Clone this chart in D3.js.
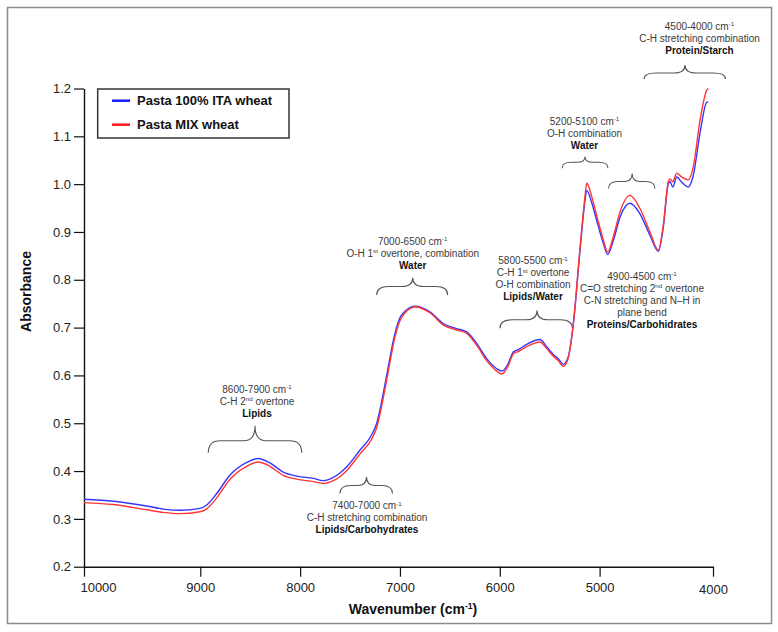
<!DOCTYPE html>
<html>
<head>
<meta charset="utf-8">
<script src="https://cdn.jsdelivr.net/npm/d3@7"></script>
<style>
  body { margin: 0; background: #fff; }
  svg { display: block; font-family: "Liberation Sans", Arial, sans-serif; }
</style>
</head>
<body>
<script>
// ---------------- DATA ----------------
const wavenumbers = [10000, 9748, 9461, 9318, 9175, 9003, 8936, 8836, 8702, 8535, 8419, 8302, 8169, 8034, 7868, 7768, 7668, 7601, 7533, 7400,
  7283, 7233, 7200, 7133, 7050, 6999, 6949, 6849, 6699, 6563, 6431, 6331, 6231, 6131, 6031, 5981, 5915, 5865, 5814, 5730,
  5597, 5530, 5464, 5414, 5364, 5314, 5263, 5196, 5146, 5129, 5080, 5029, 4967, 4929, 4879, 4820, 4732, 4644, 4556, 4482,
  4438, 4394, 4379, 4355, 4320, 4276, 4218, 4174, 4115, 4056, 4042];
const pastaITA = [0.341, 0.337, 0.327, 0.3205, 0.318, 0.322, 0.329, 0.353, 0.3916, 0.418, 0.4264, 0.417, 0.398, 0.3895, 0.3846, 0.380, 0.387, 0.396, 0.409, 0.444,
  0.476, 0.500, 0.528, 0.600, 0.688, 0.721, 0.734, 0.745, 0.733, 0.708, 0.698, 0.691, 0.667, 0.635, 0.614, 0.609, 0.625, 0.649, 0.654, 0.665,
  0.675, 0.660, 0.644, 0.635, 0.623, 0.639, 0.708, 0.862, 0.966, 0.987, 0.962, 0.924, 0.876, 0.853, 0.882, 0.931, 0.960, 0.938, 0.893, 0.8595,
  0.910, 1.001, 1.005, 0.994, 1.015, 1.004, 0.994, 1.018, 1.106, 1.171, 1.172];
const pastaMIX = [0.334, 0.330, 0.319, 0.3136, 0.311, 0.315, 0.321, 0.344, 0.383, 0.410, 0.419, 0.410, 0.391, 0.383, 0.378, 0.374, 0.380, 0.388, 0.401, 0.436,
  0.467, 0.491, 0.519, 0.590, 0.680, 0.715, 0.731, 0.743, 0.731, 0.705, 0.695, 0.688, 0.663, 0.631, 0.609, 0.603, 0.620, 0.645, 0.650, 0.660,
  0.670, 0.656, 0.640, 0.631, 0.619, 0.636, 0.708, 0.866, 0.975, 1.002, 0.975, 0.934, 0.883, 0.858, 0.890, 0.942, 0.9765, 0.949, 0.900, 0.862,
  0.915, 1.005, 1.011, 1.005, 1.023, 1.015, 1.009, 1.036, 1.133, 1.196, 1.200];
const seriesNames = ["Pasta 100% ITA wheat", "Pasta MIX wheat"];
const xTickValues = [10000, 9000, 8000, 7000, 6000, 5000, 4000];
const yTickValues = [0.2, 0.3, 0.4, 0.5, 0.6, 0.7, 0.8, 0.9, 1.0, 1.1, 1.2];
const xTitle = "Wavenumber (cm^{-1})";
const yTitle = "Absorbance";

// annotation texts ("**" = bold line, ^{..} = superscript)
const annotTexts = [
  ["8600-7900  cm^{-1}", "C-H 2^{nd}  overtone", "**Lipids"],
  ["7400-7000  cm^{-1}", "C-H stretching combination", "**Lipids/Carbohydrates"],
  ["7000-6500  cm^{-1}", "O-H 1^{st}  overtone,  combination", "**Water"],
  ["5800-5500  cm^{-1}", "C-H 1^{st}  overtone", "O-H combination", "**Lipids/Water"],
  ["5200-5100  cm^{-1}", "O-H combination", "**Water"],
  ["4900-4500  cm^{-1}", "C=O stretching 2^{nd} overtone", "C-N stretching and N\u2013H in", "plane bend", "**Proteins/Carbohidrates"],
  ["4500-4000  cm^{-1}", "C-H stretching combination", "**Protein/Starch"]
];

// ---------------- LAYOUT ----------------
const W = 778, H = 632;
const x = d3.scaleLinear().domain([10000, 9000, 5000, 4000]).range([84, 200.3, 599.6, 713]);
const y = d3.scaleLinear().domain([0.2, 1.2]).range([566.7, 88.5]);

// annotation placement (text centre in data units, brace span in data units, brace heights in px)
const annotLayout = [
  { tx: 8432, ty: 0.5716, brace: { w1: 8920, w2: 7984, wt: 8452, yEnd: 0.4384, mid: 12, tip: 27 } },
  { tx: 7330, ty: 0.327,  brace: { w1: 7601, w2: 7075, wt: 7335, yEnd: 0.3531, mid: 8, tip: 16.5 } },
  { tx: 6872, ty: 0.8796, brace: { w1: 7233, w2: 6522, wt: 6872, yEnd: 0.7682, mid: 8.5, tip: 17.3 } },
  { tx: 5667, ty: 0.8393, brace: { w1: 5998, w2: 5273, wt: 5627, yEnd: 0.6985, mid: 8.5, tip: 17.8 } },
  { tx: 5151, ty: 1.1306, brace: { w1: 5376, w2: 4926, wt: 5146, yEnd: 1.0331, mid: 6, tip: 11.6 } },
  { tx: 4626, ty: 0.8079, brace: null },
  { tx: 4119, ty: 1.3299, brace: { w1: 4608, w2: 3890, wt: 4247, yEnd: 1.2199, mid: 6, tip: 14 } }
];
const extraBraces = [ { w1: 4921, w2: 4512, wt: 4713, yEnd: 0.9909, mid: 7, tip: 15 } ];

const svg = d3.select("body").append("svg").attr("width", W).attr("height", H);

// outer frame
svg.append("rect").attr("x", 7.5).attr("y", 7.5).attr("width", 764).attr("height", 616)
  .attr("fill", "none").attr("stroke", "#8c8c8c").attr("stroke-width", 1.5);

// axes
const gx = svg.append("g").attr("transform", `translate(0,${y(0.2)})`)
  .call(d3.axisBottom(x).tickValues(xTickValues).tickFormat(d3.format("d"))
    .tickSize(10).tickSizeOuter(0).tickPadding(6));
const gy = svg.append("g").attr("transform", `translate(${x(10000)},0)`)
  .call(d3.axisLeft(y).tickValues(yTickValues).tickFormat(d3.format(".1f"))
    .tickSize(10).tickSizeOuter(0).tickPadding(3));
[gx, gy].forEach(g => {
  g.select(".domain").attr("stroke", "#111").attr("stroke-width", 1.4);
  g.selectAll(".tick line").attr("stroke", "#111").attr("stroke-width", 1.2);
  g.selectAll(".tick text").attr("font-size", 13).attr("fill", "#222")
    .attr("font-family", "'Liberation Sans', Arial, sans-serif");
});
gx.selectAll(".tick text").filter(d => d === 10000).attr("dx", 14);
gx.selectAll(".tick text").filter(d => d === 4000).attr("dy", "0.85em");

// rich text helper
function richText(parent, str, cx, cy, size, color) {
  let bold = false;
  if (str.startsWith("**")) { bold = true; str = str.slice(2); }
  const t = parent.append("text").attr("x", cx).attr("y", cy).attr("dy", "0.35em")
    .attr("text-anchor", "middle").attr("font-size", size)
    .attr("font-weight", bold ? "bold" : "normal").attr("fill", color || (bold ? "#111" : "#3a3a3a"));
  const parts = str.split(/(\^\{[^}]*\})/).filter(p => p.length);
  let shifted = false;
  parts.forEach(p => {
    if (p.startsWith("^{")) {
      t.append("tspan").attr("dy", -size * 0.38).attr("font-size", size * 0.62).text(p.slice(2, -1));
      shifted = true;
    } else {
      const ts = t.append("tspan").text(p);
      if (shifted) { ts.attr("dy", size * 0.38); shifted = false; }
    }
  });
  return t;
}

// braces
function bracePath(b) {
  const x1 = x(b.w1), x2 = x(b.w2), xt = x(b.wt);
  const ye = y(b.yEnd), ym = ye - b.mid, ytp = ye - b.tip;
  const r = Math.min(12, (xt - x1) / 2.5), rt = Math.min(11, (xt - x1) / 3);
  return `M${x1},${ye} Q${x1},${ym} ${x1 + r},${ym} L${xt - rt},${ym} Q${xt},${ym} ${xt},${ytp}` +
         ` Q${xt},${ym} ${xt + rt},${ym} L${x2 - r},${ym} Q${x2},${ym} ${x2},${ye}`;
}
const gAnn = svg.append("g");
const allBraces = annotLayout.filter(a => a.brace).map(a => a.brace).concat(extraBraces);
gAnn.selectAll("path.brace").data(allBraces).join("path").attr("class", "brace")
  .attr("d", bracePath).attr("fill", "none").attr("stroke", "#555").attr("stroke-width", 1.1);

annotTexts.forEach((lines, i) => {
  const L = annotLayout[i];
  lines.forEach((ln, j) => richText(gAnn, ln, x(L.tx), y(L.ty) + j * 12, 10));
});

// spectra
const line = d3.line().x((d, i) => x(wavenumbers[i])).y(d => y(d)).curve(d3.curveMonotoneX);
const colors = ["#3535ff", "#ff3535"];
[pastaITA, pastaMIX].forEach((s, k) => {
  svg.append("path").datum(s).attr("d", line).attr("fill", "none")
    .attr("stroke", colors[k]).attr("stroke-width", 1.4);
});

// legend
const lg = svg.append("g");
lg.append("rect").attr("x", 97.7).attr("y", 89).attr("width", 191.3).attr("height", 49)
  .attr("fill", "#fff").attr("stroke", "#333").attr("stroke-width", 1.5);
seriesNames.forEach((n, k) => {
  const yy = 100.7 + k * 24;
  lg.append("line").attr("x1", 112).attr("x2", 130).attr("y1", yy).attr("y2", yy)
    .attr("stroke", k ? "#ff1a1a" : "#1a1aff").attr("stroke-width", 2.5);
  lg.append("text").attr("x", 137).attr("y", yy).attr("dy", "0.35em")
    .attr("font-size", 13).attr("font-weight", "bold").attr("fill", "#111").text(n);
});

// axis titles
richText(svg, "**" + xTitle, 413, 609, 14, "#111");
svg.append("text").attr("transform", "translate(26,291.5) rotate(-90)").attr("dy", "0.35em")
  .attr("text-anchor", "middle").attr("font-size", 14).attr("font-weight", "bold").attr("fill", "#111")
  .text(yTitle);
</script>
</body>
</html>
